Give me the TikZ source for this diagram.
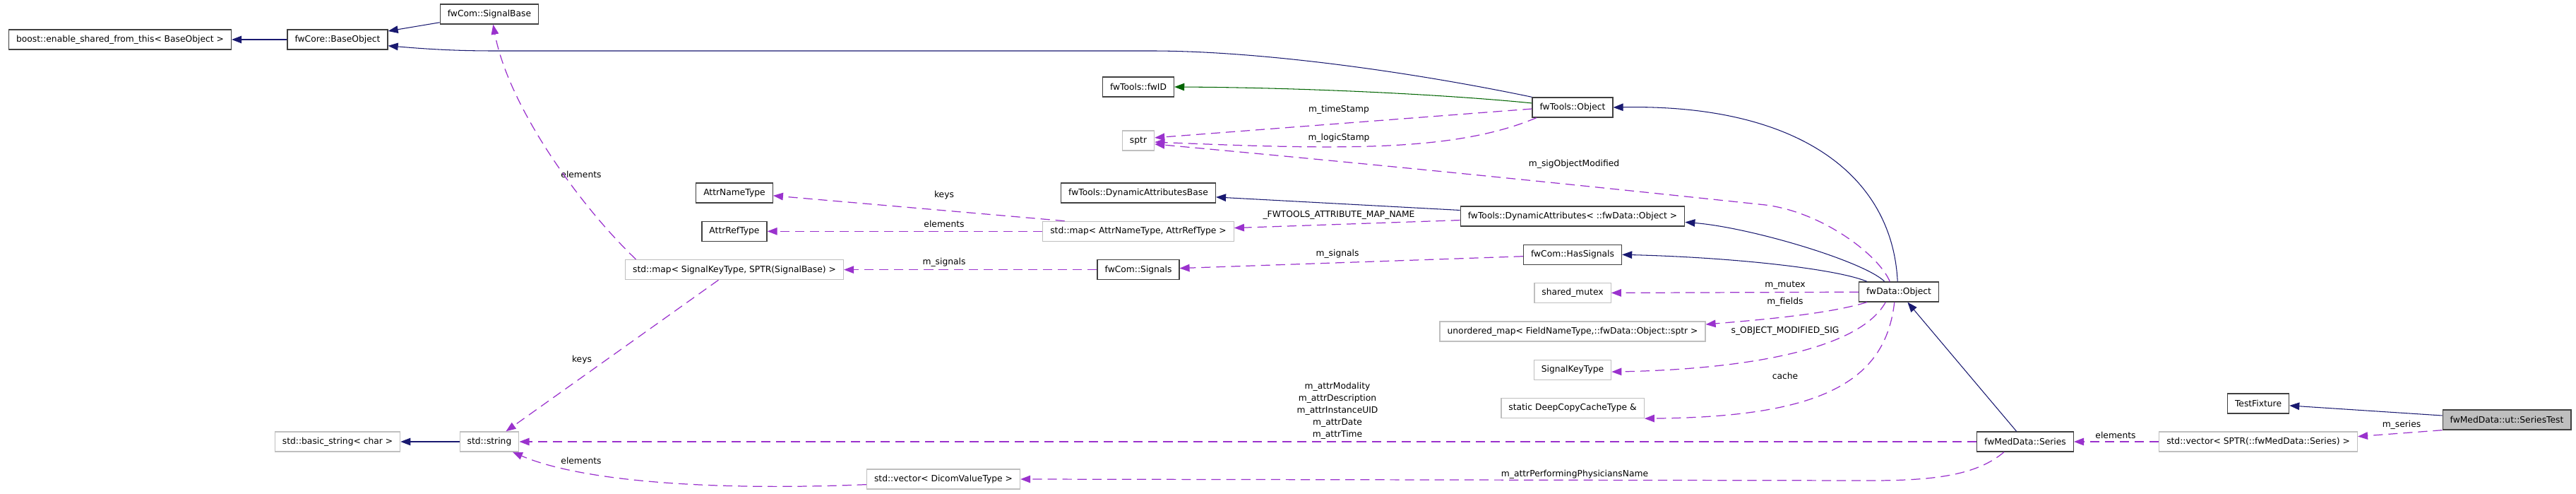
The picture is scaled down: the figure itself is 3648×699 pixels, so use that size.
\documentclass[tikz,border=0pt]{standalone}
\usepackage{fontspec}
\setmainfont{DejaVu Sans}
\usepackage{tikz}
\usetikzlibrary{arrows.meta,positioning}
\definecolor{DoxyNavy}{HTML}{191970}
\definecolor{DoxyOrchid}{HTML}{9A32CD}
\definecolor{DoxyGreen}{HTML}{006400}
\definecolor{DoxyGray}{HTML}{BFBFBF}
\definecolor{DoxyBorder}{HTML}{404040}
\tikzset{
  classbox/.style={rectangle,draw=DoxyBorder,fill=white,line width=0.75pt,minimum height=0.56cm,inner xsep=0.21cm,inner ysep=0pt,font=\fontsize{7}{9.7}\selectfont},
  extbox/.style={classbox,draw=DoxyGray},
  focusbox/.style={classbox,fill=DoxyGray},
  lbl/.style={inner sep=0pt,align=center,font=\fontsize{7}{9.7}\selectfont},
  inherit/.style={-{Triangle[length=8pt,width=6pt]},line width=0.6pt,color=DoxyNavy},
  protinherit/.style={inherit,color=DoxyGreen},
  usage/.style={-{Triangle[length=8pt,width=6pt]},line width=0.7pt,color=DoxyOrchid,dash pattern=on 7.5pt off 4.5pt},
}
\begin{document}
\begin{tikzpicture}[x=0.02cm,y=-0.02cm,node distance=0.5cm]
  \useasboundingbox (0,0) rectangle (3648,699);
  % base classes
  \node[classbox] (boost) at (170,56) {boost::enable\_shared\_from\_this< BaseObject >};
  \node[classbox] (baseobj) at (478,56) {fwCore::BaseObject};
  \node[classbox] (sigbase) at (693,20) {fwCom::SignalBase};
  \node[extbox] (basicstr) at (478,625) {std::basic\_string< char >};
  \node[extbox] (stdstr) at (693,625) {std::string};
  \node[extbox] (vecdicom) at (1336,678) {std::vector< DicomValueType >};
  % attribute types
  \node[classbox] (attrname) at (1040,273) {AttrNameType};
  \node[classbox, below=of attrname] (attrref) {AttrRefType};
  \node[extbox, below=of attrref] (mapsig) {std::map< SignalKeyType, SPTR(SignalBase) >};
  % fwTools column
  \node[classbox] (fwid) at (1612,123) {fwTools::fwID};
  \node[extbox] (sptr) at (1612,199) {sptr};
  \node[classbox] (dynbase) at (1612,273) {fwTools::DynamicAttributesBase};
  \node[extbox, below=of dynbase] (mapattr) {std::map< AttrNameType, AttrRefType >};
  \node[classbox, below=of mapattr] (signals) {fwCom::Signals};
  % fwData column
  \node[classbox] (toolsobj) at (2227,152) {fwTools::Object};
  \node[classbox] (dynattr) at (2227,306) {fwTools::DynamicAttributes< ::fwData::Object >};
  \node[classbox, below=of dynattr] (hassig) {fwCom::HasSignals};
  \node[extbox, below=of hassig] (mutex) {shared\_mutex};
  \node[extbox, below=of mutex] (fields) {unordered\_map< FieldNameType,::fwData::Object::sptr >};
  \node[extbox, below=of fields] (sigkey) {SignalKeyType};
  \node[extbox, below=of sigkey] (deepcopy) {static DeepCopyCacheType \&};
  \node[classbox] (dataobj) at (2689,413) {fwData::Object};
  % test side
  \node[classbox] (series) at (2868,625) {fwMedData::Series};
  \node[extbox] (vecseries) at (3198,625) {std::vector< SPTR(::fwMedData::Series) >};
  \node[classbox] (testfix) at (3198,571) {TestFixture};
  \node[focusbox] (seriestest) at (3550,594) {fwMedData::ut::SeriesTest};

  % edge labels
  \node[lbl] (lElemSig) at (823,247) {elements};
  \node[lbl] (lKeysStr) at (824,509) {keys};
  \node[lbl] (lElemStr) at (823,652) {elements};
  \node[lbl] (lSigMap) at (1337,371) {m\_signals};
  \node[lbl] (lKeysAttr) at (1337,276) {keys};
  \node[lbl] (lElemAttr) at (1337,317) {elements};
  \node[lbl] (lTime) at (1896,155) {m\_timeStamp};
  \node[lbl] (lLogic) at (1896,195) {m\_logicStamp};
  \node[lbl] (lAttrMap) at (1896,304) {\_FWTOOLS\_ATTRIBUTE\_MAP\_NAME};
  \node[lbl] (lSigHas) at (1894,359) {m\_signals};
  \node[lbl] (lAttrs) at (1894,581) {m\_attrModality\\m\_attrDescription\\m\_attrInstanceUID\\m\_attrDate\\m\_attrTime};
  \node[lbl] (lPhys) at (2230,671) {m\_attrPerformingPhysiciansName};
  \node[lbl] (lSigMod) at (2229,232) {m\_sigObjectModified};
  \node[lbl] (lMutex) at (2528,404) {m\_mutex};
  \node[lbl] (lFields) at (2528,427) {m\_fields};
  \node[lbl] (lModSig) at (2528,468) {s\_OBJECT\_MODIFIED\_SIG};
  \node[lbl] (lCache) at (2528,532) {cache};
  \node[lbl] (lElemSer) at (2996,616) {elements};
  \node[lbl] (lSeries) at (3401,601) {m\_series};

  % inheritance
  \draw[inherit] (baseobj) -- (boost);
  \draw[inherit] (sigbase) -- (baseobj);
  \draw[inherit] (toolsobj.north west) .. controls (1990,100) and (1780,72) .. (1630,72) -- (700,72) .. controls (640,72) and (600,69) .. (baseobj.-7);
  \draw[protinherit] (toolsobj.174) .. controls (2050,134) and (1850,124) .. (fwid.east);
  \draw[inherit] (dataobj.97) .. controls (2680,250) and (2550,147) .. (toolsobj.east);
  \draw[inherit] (dynattr) -- (dynbase);
  \draw[inherit] (dataobj.144) .. controls (2640,370) and (2480,322) .. (dynattr.-3);
  \draw[inherit] (dataobj.162) .. controls (2600,380) and (2450,364) .. (hassig.east);
  \draw[inherit] (series) -- (dataobj);
  \draw[inherit] (seriestest) -- (testfix);
  \draw[inherit] (stdstr) -- (basicstr);

  % members
  \draw[usage] (toolsobj.182) -- (sptr.10);
  \draw[usage] (toolsobj.196) .. controls (2060,215) and (1900,212) .. (sptr.-5);
  \draw[usage] (dataobj.131) .. controls (2660,360) and (2580,300) .. (2500,290) .. controls (2200,258) and (1900,228) .. (sptr.-12);
  \draw[usage] (dynattr.182) -- (mapattr.2);
  \draw[usage] (mapattr.172) -- (attrname.-4);
  \draw[usage] (mapattr) -- (attrref);
  \draw[usage] (signals) -- (mapsig);
  \draw[usage] (hassig) -- (signals);
  \draw[usage] (mapsig.174) .. controls (820,290) and (720,150) .. (sigbase.-70);
  \draw[usage] (mapsig.213) -- (stdstr.32);
  \draw[usage] (series) -- (stdstr);
  \draw[usage] (vecdicom.184) .. controls (1000,695) and (820,680) .. (stdstr.-24);
  \draw[usage] (series.206) .. controls (2800,672) and (2740,680) .. (2650,680) -- (vecdicom.east);
  \draw[usage] (dataobj) -- (mutex);
  \draw[usage] (dataobj.198) .. controls (2590,444) and (2500,452) .. (fields.3);
  \draw[usage] (dataobj.218) .. controls (2630,500) and (2450,523) .. (sigkey.-3);
  \draw[usage] (dataobj.247) .. controls (2670,540) and (2580,590) .. (deepcopy.south east);
  \draw[usage] (vecseries) -- (series);
  \draw[usage] (seriestest.south west) -- (vecseries.3);
\end{tikzpicture}
\end{document}
